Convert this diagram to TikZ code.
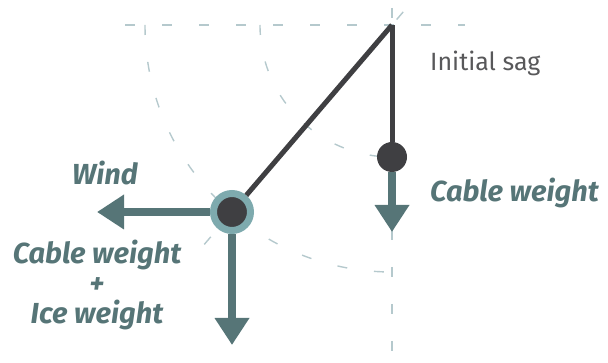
\documentclass[tikz,border=0pt]{standalone}
\usepackage{fontspec}
\setmainfont{Fira Sans}
\usepackage{xcolor}
\usepackage{tikz}
\usetikzlibrary{arrows.meta,calc}
\definecolor{forcecol}{HTML}{567577}
\definecolor{ringcol}{HTML}{7EAAAE}
\definecolor{darkcol}{HTML}{3F3F42}
\definecolor{guidecol}{HTML}{B5C9CD}
\definecolor{sagcol}{HTML}{58585A}

\begin{document}
\begin{tikzpicture}[x=1pt,y=-1pt,
  force/.style={line width=7.5pt,draw=forcecol,-{Triangle[length=27pt,width=33pt]}},
  guide/.style={draw=guidecol,line width=1.4pt,dash pattern=on 10pt off 27pt},
  cable/.style={draw=darkcol,line width=5pt},
  forcelabel/.style={text=forcecol,inner sep=0pt,
    font=\fontsize{29}{30}\selectfont\bfseries\itshape}]
  \useasboundingbox (0,0) rectangle (608,363);
  \coordinate (top) at (392,25);
  % guide lines
  \draw[guide] (125,25) -- (465,25);
  \draw[guide] (392,8) -- (392,363);
  \draw[guide] ($(top)!-0.07!(232,212)$) -- ($(top)!1.18!(232,212)$);
  \draw[guide] (top) ++(-132pt,0) arc[start angle=180,end angle=270,radius=132pt];
  \draw[guide] (top) ++(-247pt,0) arc[start angle=180,end angle=270,radius=247pt];
  % cable positions
  \node[circle,fill=darkcol,minimum size=30pt,inner sep=0pt] (sag) at (392,157) {};
  \node[circle,fill=darkcol,draw=ringcol,line width=7pt,minimum size=37pt,
    inner sep=0pt] (ice) at (232,212) {};
  \draw[cable] (top) -- (sag);
  \draw[cable] (top) -- (ice);
  % forces
  \coordinate (sagtip) at (392,232);
  \coordinate (windtip) at (97,212);
  \coordinate (icetip) at (232,345);
  \draw[force] (sag.south) -- (sagtip);
  \draw[force] (ice.west) -- (windtip);
  \draw[force] (ice.south) -- (icetip);
  % labels
  \node[anchor=base west,text=sagcol,inner sep=0pt,font=\fontsize{25}{30}\selectfont]
    (sagtext) at (430,71) {Initial sag};
  \node[forcelabel,anchor=base west] (cabletext) at (430,202) {Cable weight};
  \node[forcelabel,anchor=base] (windtext) at (105,185) {Wind};
  \node[forcelabel,align=center] (icetext) at (97,285) {Cable weight\\+\\Ice weight};
\end{tikzpicture}
\end{document}
